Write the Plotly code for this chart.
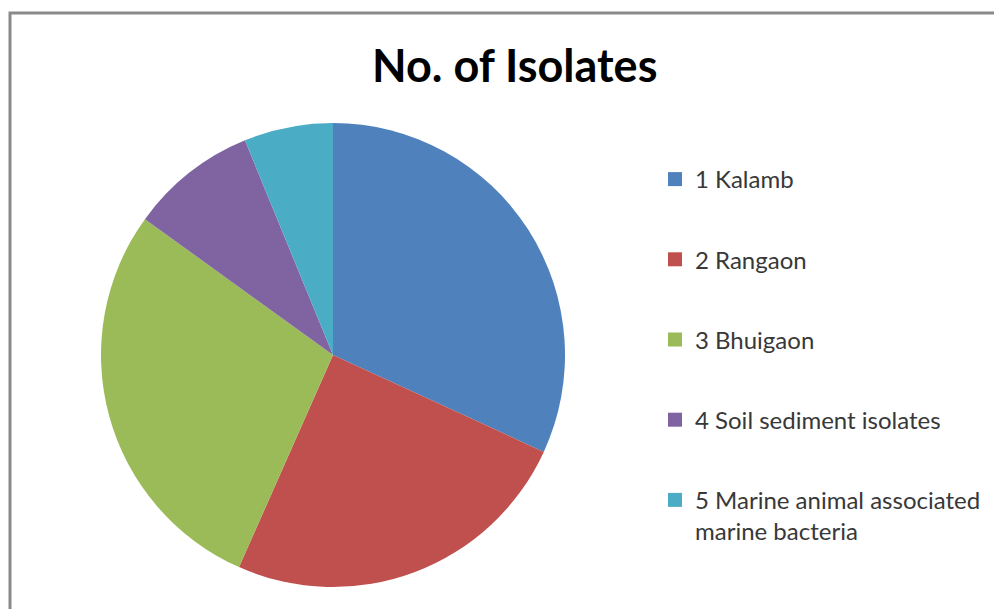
import plotly.graph_objects as go

categories = ["1 Kalamb", "2 Rangaon", "3 Bhuigaon", "4 Soil sediment isolates",
              "5 Marine animal associated<br>marine bacteria"]
values = [36, 28, 32, 10, 7]
colors = ["#4F81BD", "#C0504D", "#9BBB59", "#8064A2", "#4BACC6"]

W, H = 1002, 609
OFF = 8  # page body margin offset
cx, cy, r = 333 - OFF, 355 - OFF, 232


def px(x):
    return (x - OFF) / W


def py(y):
    return (H - (y - OFF)) / H


fig = go.Figure()
fig.add_trace(go.Pie(
    labels=categories, values=values, sort=False, direction="clockwise", rotation=0,
    marker=dict(colors=colors, line=dict(width=0)), textinfo="none", hoverinfo="label+value",
    showlegend=False,
    domain=dict(x=[(cx - r) / W, (cx + r) / W], y=[(H - cy - r) / H, (H - cy + r) / H]),
))
for i, (c, col) in enumerate(zip(categories, colors)):
    fig.add_trace(go.Scatter(
        x=[None], y=[None], mode="markers", name=c, legendgroup=f"g{i}",
        marker=dict(symbol="square", size=14, color=col),
    ))

fig.add_shape(type="rect", xref="paper", yref="paper",
              x0=px(10), x1=1.05, y0=-0.05, y1=py(13),
              line=dict(color="#8a8a8a", width=3), fillcolor="rgba(0,0,0,0)")

fig.add_annotation(text="<b>No. of Isolates</b>", x=px(514), y=py(65),
                   xref="paper", yref="paper", showarrow=False,
                   font=dict(family="Lato, Open Sans, sans-serif", size=45, color="#000000"),
                   xanchor="center", yanchor="middle")

fig.update_layout(
    width=W, height=H, margin=dict(l=0, r=0, t=0, b=0),
    paper_bgcolor="white", plot_bgcolor="white",
    xaxis=dict(visible=False), yaxis=dict(visible=False),
    legend=dict(x=px(655), y=py(157), xanchor="left", yanchor="top", valign="top",
                font=dict(family="Lato, Open Sans, sans-serif", size=24, color="#383838"),
                tracegroupgap=46, itemwidth=30, bgcolor="rgba(0,0,0,0)"),
)
fig.write_html("out.html")
